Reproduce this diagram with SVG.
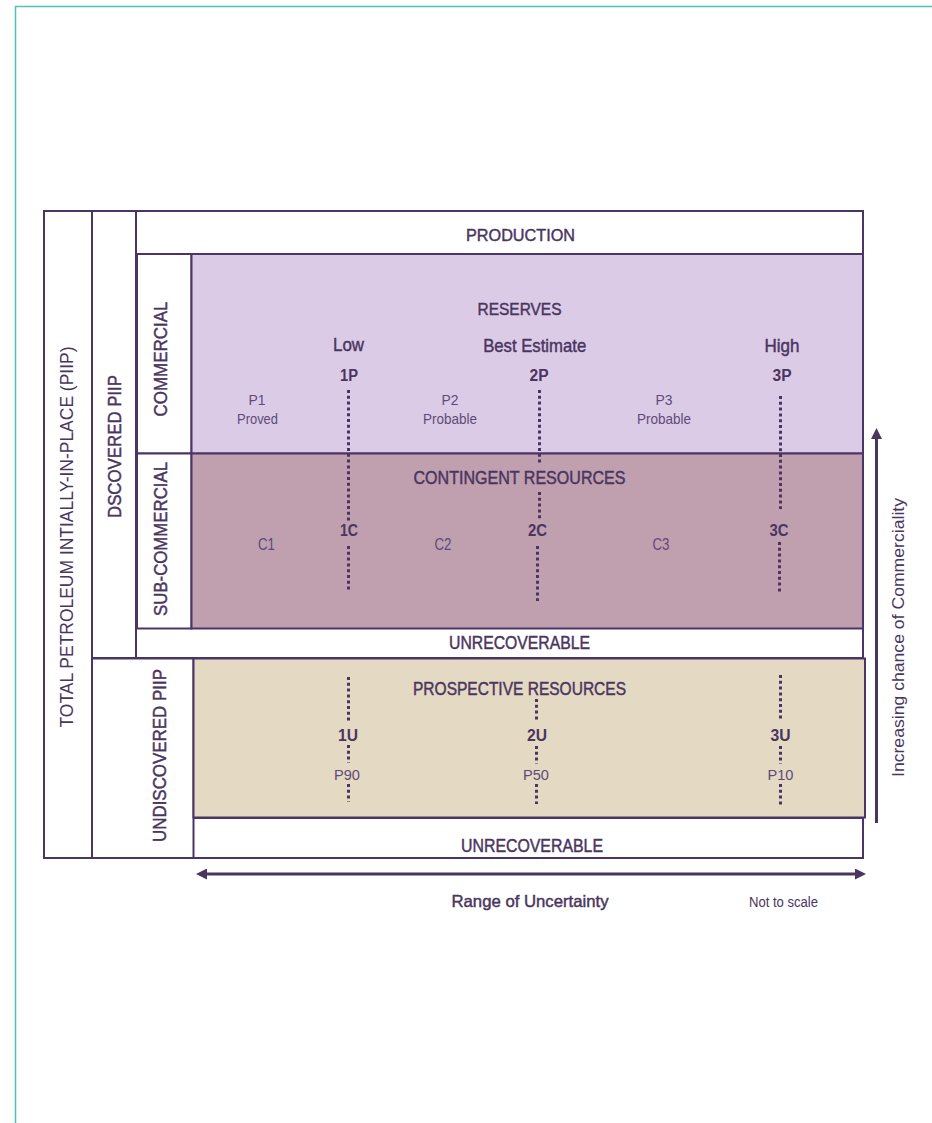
<svg xmlns="http://www.w3.org/2000/svg" width="932" height="1123" viewBox="0 0 932 1123">
  <style>
    text { font-family: "Liberation Sans Narrow", "Liberation Sans", Arial, sans-serif; fill: #4a3560; }
    .med { stroke: #4a3560; stroke-width: 0.45; }
    .bold { font-weight: bold; }
    .lite { fill: #5e4a78; }
    .box { stroke: #4b3565; stroke-width: 2; }
    .dots { stroke: #4a3560; stroke-width: 3; stroke-dasharray: 3 2.8; fill: none; }
    .axis { stroke: #4a3560; stroke-width: 3; fill: none; }
  </style>
  <defs>
    <marker id="head" viewBox="0 0 10 10" refX="0" refY="5" markerUnits="userSpaceOnUse" markerWidth="11" markerHeight="11" orient="auto-start-reverse">
      <path d="M0,0 L10,5 L0,10 z" fill="#4a3560"/>
    </marker>
  </defs>

  <rect width="932" height="1123" fill="#ffffff"/>

  <!-- page frame -->
  <g id="frame" stroke="#4fc1b9" stroke-width="1.5" fill="none">
    <line x1="15" y1="6.5" x2="932" y2="6.5"/>
    <line x1="15.5" y1="6" x2="15.5" y2="1123"/>
  </g>

  <!-- outer classification frame -->
  <g id="total-piip">
    <rect class="box" x="44" y="211" width="819" height="647" fill="#ffffff"/>
    <line class="box" x1="92" y1="211" x2="92" y2="858"/>
    <text transform="translate(72.5,537) rotate(-90)" text-anchor="middle" font-size="19" textLength="381" lengthAdjust="spacingAndGlyphs">TOTAL PETROLEUM INTIALLY-IN-PLACE (PIIP)</text>
  </g>

  <g id="discovered-piip">
    <rect class="box" x="92" y="211" width="44" height="447" fill="#ffffff"/>
    <text class="med" transform="translate(120.5,446.5) rotate(-90)" text-anchor="middle" font-size="19" textLength="143" lengthAdjust="spacingAndGlyphs">DSCOVERED PIIP</text>
  </g>

  <g id="production">
    <rect class="box" x="136" y="211" width="727" height="43" fill="#ffffff"/>
    <text class="med" x="520.5" y="241" text-anchor="middle" font-size="17" textLength="109" lengthAdjust="spacingAndGlyphs">PRODUCTION</text>
  </g>

  <g id="commercial">
    <rect class="box" x="137" y="254" width="54.5" height="199.5" fill="#ffffff"/>
    <text class="med" transform="translate(166.5,359) rotate(-90)" text-anchor="middle" font-size="19" textLength="115" lengthAdjust="spacingAndGlyphs">COMMERCIAL</text>
  </g>

  <g id="sub-commercial">
    <rect class="box" x="137" y="453.5" width="54.5" height="175" fill="#ffffff"/>
    <text class="med" transform="translate(166.5,539) rotate(-90)" text-anchor="middle" font-size="19" textLength="154" lengthAdjust="spacingAndGlyphs">SUB-COMMERCIAL</text>
  </g>

  <g id="reserves">
    <rect class="box" x="191.5" y="254" width="671.5" height="199.5" fill="#dccbe6"/>
    <text class="med" x="519.5" y="315" text-anchor="middle" font-size="17" textLength="84" lengthAdjust="spacingAndGlyphs">RESERVES</text>
    <text class="med" x="348.5" y="351" text-anchor="middle" font-size="19" textLength="31" lengthAdjust="spacingAndGlyphs">Low</text>
    <text class="med" x="534.7" y="352" text-anchor="middle" font-size="19" textLength="103" lengthAdjust="spacingAndGlyphs">Best Estimate</text>
    <text class="med" x="782" y="352" text-anchor="middle" font-size="19" textLength="35" lengthAdjust="spacingAndGlyphs">High</text>
    <text class="bold" x="349" y="381" text-anchor="middle" font-size="16" textLength="18" lengthAdjust="spacingAndGlyphs">1P</text>
    <text class="bold" x="539" y="381" text-anchor="middle" font-size="16" textLength="19" lengthAdjust="spacingAndGlyphs">2P</text>
    <text class="bold" x="782" y="381" text-anchor="middle" font-size="16" textLength="19" lengthAdjust="spacingAndGlyphs">3P</text>
    <text class="lite" x="257" y="405" text-anchor="middle" font-size="15" textLength="17" lengthAdjust="spacingAndGlyphs">P1</text>
    <text class="lite" x="257.5" y="423.5" text-anchor="middle" font-size="15" textLength="41" lengthAdjust="spacingAndGlyphs">Proved</text>
    <text class="lite" x="450" y="405" text-anchor="middle" font-size="15" textLength="17" lengthAdjust="spacingAndGlyphs">P2</text>
    <text class="lite" x="450" y="423.5" text-anchor="middle" font-size="15" textLength="54" lengthAdjust="spacingAndGlyphs">Probable</text>
    <text class="lite" x="664" y="405" text-anchor="middle" font-size="15" textLength="17" lengthAdjust="spacingAndGlyphs">P3</text>
    <text class="lite" x="664" y="423.5" text-anchor="middle" font-size="15" textLength="54" lengthAdjust="spacingAndGlyphs">Probable</text>
  </g>

  <g id="contingent-resources">
    <rect class="box" x="191.5" y="453.5" width="671.5" height="175" fill="#c09fae"/>
    <text class="med" x="519.5" y="484" text-anchor="middle" font-size="18" textLength="212" lengthAdjust="spacingAndGlyphs">CONTINGENT RESOURCES</text>
    <text class="lite" x="266.5" y="550" text-anchor="middle" font-size="16" textLength="17" lengthAdjust="spacingAndGlyphs">C1</text>
    <text class="lite" x="443" y="550" text-anchor="middle" font-size="16" textLength="17" lengthAdjust="spacingAndGlyphs">C2</text>
    <text class="lite" x="661" y="550" text-anchor="middle" font-size="16" textLength="17" lengthAdjust="spacingAndGlyphs">C3</text>
    <text class="bold" x="349" y="536" text-anchor="middle" font-size="16" textLength="18" lengthAdjust="spacingAndGlyphs">1C</text>
    <text class="bold" x="537.5" y="536" text-anchor="middle" font-size="16" textLength="19" lengthAdjust="spacingAndGlyphs">2C</text>
    <text class="bold" x="779" y="536" text-anchor="middle" font-size="16" textLength="19" lengthAdjust="spacingAndGlyphs">3C</text>
  </g>

  <g id="unrecoverable-discovered">
    <line class="box" x1="136" y1="658" x2="863" y2="658"/>
    <text class="med" x="519.5" y="649.3" text-anchor="middle" font-size="18" textLength="141" lengthAdjust="spacingAndGlyphs">UNRECOVERABLE</text>
  </g>

  <g id="undiscovered-piip">
    <rect class="box" x="92" y="658.5" width="101.5" height="199.5" fill="#ffffff"/>
    <text class="med" transform="translate(166,755.5) rotate(-90)" text-anchor="middle" font-size="19" textLength="173" lengthAdjust="spacingAndGlyphs">UNDISCOVERED PIIP</text>
  </g>

  <g id="prospective-resources">
    <rect class="box" x="193.5" y="658.5" width="671.5" height="159" fill="#e4d9c3"/>
    <text class="med" x="519.5" y="695" text-anchor="middle" font-size="18" textLength="213" lengthAdjust="spacingAndGlyphs">PROSPECTIVE RESOURCES</text>
    <text class="bold" x="348" y="741" text-anchor="middle" font-size="16" textLength="20" lengthAdjust="spacingAndGlyphs">1U</text>
    <text class="bold" x="537" y="741" text-anchor="middle" font-size="16" textLength="20" lengthAdjust="spacingAndGlyphs">2U</text>
    <text class="bold" x="780.5" y="741" text-anchor="middle" font-size="16" textLength="20" lengthAdjust="spacingAndGlyphs">3U</text>
    <text class="lite" x="347" y="780" text-anchor="middle" font-size="15" textLength="26" lengthAdjust="spacingAndGlyphs">P90</text>
    <text class="lite" x="536" y="780" text-anchor="middle" font-size="15" textLength="26" lengthAdjust="spacingAndGlyphs">P50</text>
    <text class="lite" x="780.5" y="780" text-anchor="middle" font-size="15" textLength="26" lengthAdjust="spacingAndGlyphs">P10</text>
  </g>

  <g id="unrecoverable-undiscovered">
    <line class="box" x1="193.5" y1="818" x2="863" y2="818"/>
    <text class="med" x="532" y="851.7" text-anchor="middle" font-size="18" textLength="142" lengthAdjust="spacingAndGlyphs">UNRECOVERABLE</text>
  </g>

  <!-- uncertainty cut-offs and axes -->
  <g id="connectors">
    <!-- low estimate -->
    <line class="dots" x1="348.5" y1="390" x2="348.5" y2="521"/>
    <line class="dots" x1="348.5" y1="546" x2="348.5" y2="590"/>
    <line class="dots" x1="348.5" y1="677" x2="348.5" y2="722"/>
    <line class="dots" x1="348.5" y1="745" x2="348.5" y2="763"/>
    <line class="dots" x1="348.5" y1="784" x2="348.5" y2="802"/>
    <!-- best estimate -->
    <line class="dots" x1="539.5" y1="390" x2="539.5" y2="465"/>
    <line class="dots" x1="539.5" y1="492" x2="539.5" y2="521"/>
    <line class="dots" x1="537.5" y1="546" x2="537.5" y2="601"/>
    <line class="dots" x1="536.5" y1="699" x2="536.5" y2="722"/>
    <line class="dots" x1="536.5" y1="746" x2="536.5" y2="764"/>
    <line class="dots" x1="536.5" y1="784" x2="536.5" y2="804"/>
    <!-- high estimate -->
    <line class="dots" x1="780.5" y1="396" x2="780.5" y2="509"/>
    <line class="dots" x1="779.5" y1="542" x2="779.5" y2="594"/>
    <line class="dots" x1="780.5" y1="675" x2="780.5" y2="720"/>
    <line class="dots" x1="780.5" y1="746" x2="780.5" y2="764"/>
    <line class="dots" x1="780.5" y1="784" x2="780.5" y2="805"/>

    <!-- range of uncertainty axis -->
    <line class="axis" x1="207" y1="874" x2="855" y2="874" marker-start="url(#head)" marker-end="url(#head)"/>
    <!-- commerciality axis -->
    <line class="axis" x1="876.5" y1="823" x2="876.5" y2="439" marker-end="url(#head)"/>
  </g>

  <g id="axis-labels">
    <text class="med" x="530" y="906.5" text-anchor="middle" font-size="17" textLength="157" lengthAdjust="spacingAndGlyphs">Range of Uncertainty</text>
    <text x="783.5" y="906.5" text-anchor="middle" font-size="14" textLength="69" lengthAdjust="spacingAndGlyphs">Not to scale</text>
    <text transform="translate(904,637.5) rotate(-90)" text-anchor="middle" font-size="16" textLength="279" lengthAdjust="spacingAndGlyphs">Increasing chance of Commerciality</text>
  </g>
</svg>
